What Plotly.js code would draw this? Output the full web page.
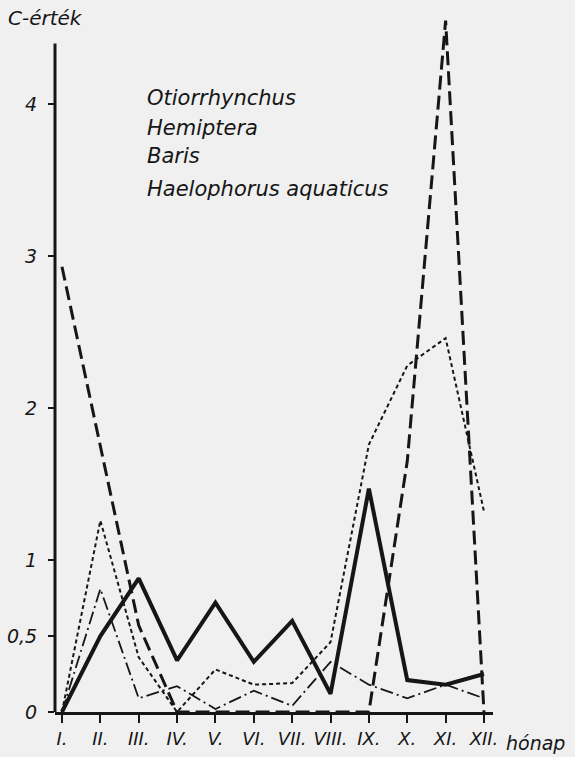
<!DOCTYPE html>
<html>
<head>
<meta charset="utf-8">
<script src="https://cdn.plot.ly/plotly-3.0.1.min.js"></script>
<style>
  html, body { margin: 0; padding: 0; background: #f0f0f0; }
  #chart { width: 575px; height: 757px; }
</style>
</head>
<body>
<div id="chart"></div>
<script>
// Months (x categories)
const months = ['I.', 'II.', 'III.', 'IV.', 'V.', 'VI.', 'VII.', 'VIII.', 'IX.', 'X.', 'XI.', 'XII.'];

// Series values (C-érték)
const otiorrhynchus = [0, 0.5, 0.88, 0.34, 0.72, 0.33, 0.6, 0.12, 1.47, 0.21, 0.18, 0.25];
const hemiptera     = [2.93, 1.75, 0.57, 0, 0, 0, 0, 0, 0, 1.65, 4.55, 0];
const baris         = [0, 1.26, 0.36, 0, 0.28, 0.18, 0.19, 0.46, 1.76, 2.28, 2.46, 1.32];
const haelophorus   = [0, 0.81, 0.09, 0.17, 0.02, 0.14, 0.04, 0.33, 0.18, 0.09, 0.18, 0.09];

// Y tick labels
const yTickVals = [0, 0.5, 1, 2, 3, 4];
const yTickText = ['0', '0,5', '1', '2', '3', '4'];
const yAxisTop = 4.4;

// Legend texts
const legendNames = ['Otiorrhynchus', 'Hemiptera', 'Baris', 'Haelophorus aquaticus'];

const ink = '#161616';
const font = 'DejaVu Sans';

const traces = [
  { x: months, y: otiorrhynchus, name: legendNames[0], mode: 'lines',
    line: { color: ink, width: 4 } },
  { x: months, y: hemiptera, name: legendNames[1], mode: 'lines',
    line: { color: ink, width: 3, dash: '14px,6px' } },
  { x: months, y: baris, name: legendNames[2], mode: 'lines',
    line: { color: ink, width: 2, dash: '4px,3px' } },
  { x: months, y: haelophorus, name: legendNames[3], mode: 'lines',
    line: { color: ink, width: 1.8, dash: '13px,4px,2px,4px' } }
];

const legendY = [0.8784, 0.8355, 0.7954, 0.7482];
const annotations = legendNames.map((t, i) => ({
  text: t, xref: 'paper', yref: 'paper', x: 0.2055, y: legendY[i],
  xanchor: 'left', yanchor: 'middle', showarrow: false,
  font: { family: font, size: 21, color: ink, style: 'italic' }
}));
annotations.push({
  text: 'C-érték', xref: 'paper', yref: 'paper', x: -0.112, y: 0.9928,
  xanchor: 'left', yanchor: 'middle', showarrow: false,
  font: { family: font, size: 20, color: ink, style: 'italic' }
});
annotations.push({
  text: 'hónap', xref: 'paper', yref: 'paper', x: 1.025, y: -0.0443,
  xanchor: 'left', yanchor: 'middle', showarrow: false,
  font: { family: font, size: 19, color: ink, style: 'italic' }
});

const layout = {
  width: 575, height: 757,
  margin: { l: 55, r: 82, t: 13, b: 45 },
  paper_bgcolor: '#f0f0f0', plot_bgcolor: '#f0f0f0',
  showlegend: false,
  font: { family: font, color: ink },
  xaxis: {
    type: 'category', range: [-0.182, 11.235],
    showline: true, linewidth: 3, linecolor: ink,
    ticks: 'outside', ticklen: 8, tickwidth: 2, tickcolor: ink,
    showgrid: false, zeroline: false,
    tickfont: { family: font, size: 18, color: ink, style: 'italic' }
  },
  yaxis: {
    range: [0, 4.6],
    showline: false,
    ticks: 'outside', ticklen: 6, tickwidth: 2, tickcolor: ink,
    tickvals: yTickVals, ticktext: yTickText,
    showgrid: false, zeroline: false,
    ticklabelstandoff: 7,
    tickfont: { family: font, size: 19, color: ink, style: 'italic' }
  },
  shapes: [{
    type: 'line', xref: 'paper', yref: 'y', x0: 0, x1: 0, y0: 0, y1: yAxisTop,
    line: { color: ink, width: 3 }
  }],
  annotations: annotations
};

Plotly.newPlot('chart', traces, layout, { displayModeBar: false, staticPlot: true });
</script>
</body>
</html>
